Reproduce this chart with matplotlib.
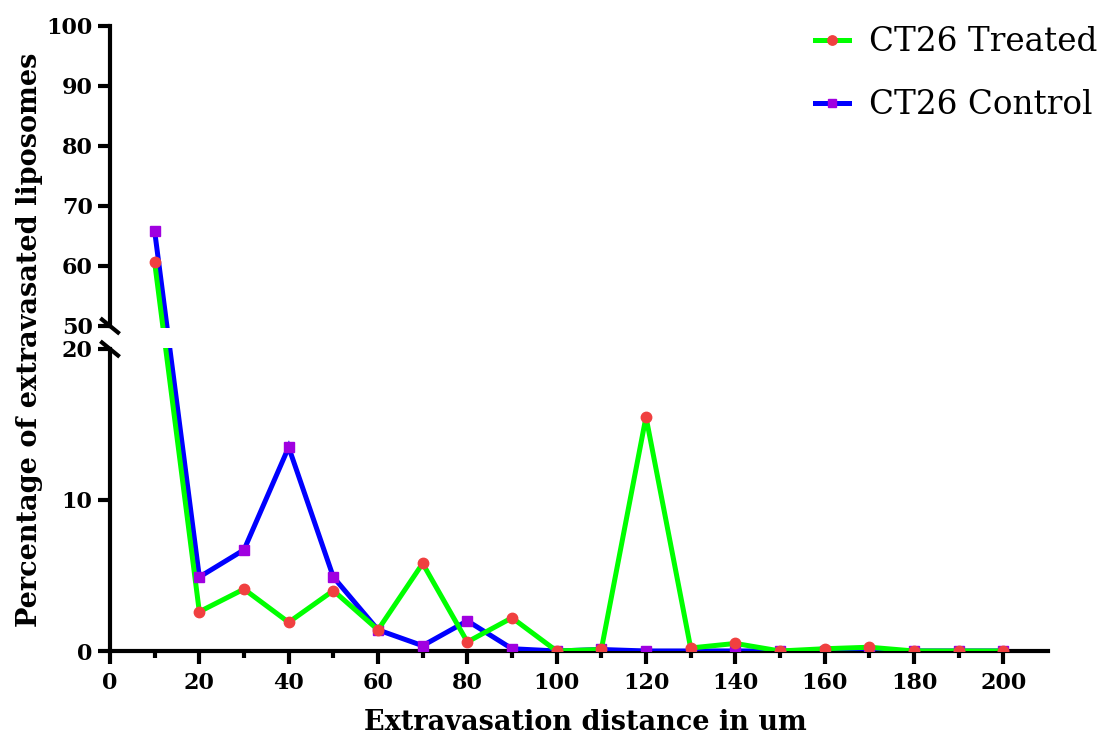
import matplotlib.pyplot as plt
import matplotlib.patches as mpatches
import numpy as np

plt.rcParams['font.family'] = ['DejaVu Serif']

distance = [10, 20, 30, 40, 50, 60, 70, 80, 90, 100,
            110, 120, 130, 140, 150, 160, 170, 180, 190, 200]
treated = [60.6, 2.6, 4.1, 1.9, 4.0, 1.4, 5.8, 0.6, 2.2, 0.0,
           0.1, 15.5, 0.2, 0.5, 0.0, 0.15, 0.25, 0.0, 0.0, 0.0]
control = [65.8, 4.9, 6.7, 13.5, 4.9, 1.4, 0.35, 2.0, 0.15, 0.0,
           0.1, 0.0, 0.0, 0.0, 0.0, 0.0, 0.0, 0.0, 0.0, 0.0]

W, H = 1099, 737
fig = plt.figure(figsize=(W / 100, H / 100), dpi=100)

x0, x1 = 110 / W, 1048 / W
ax_top = fig.add_axes([x0, 1 - 326 / H, x1 - x0, (326 - 26) / H])
ax_bot = fig.add_axes([x0, 1 - 651 / H, x1 - x0, (651 - 349) / H])

spine_w = 3.0
lw = 3.6
styles = [
    (control, 'CT26 Control', '#0000ff', 's', 7, '#a000e0', 3),
    (treated, 'CT26 Treated', '#00ff00', 'o', 7.5, '#f04040', 4),
]

for ax in (ax_top, ax_bot):
    ax.patch.set_visible(False)
    ax.set_xlim(0, 210)
    ax.spines['top'].set_visible(False)
    ax.spines['right'].set_visible(False)
    ax.spines['left'].set_linewidth(spine_w)
    ax.spines['bottom'].set_linewidth(spine_w)
    ax.tick_params(axis='y', length=9, width=spine_w, labelsize=16)

ax_top.set_ylim(50, 100)
ax_top.set_yticks(np.arange(50, 101, 10))
ax_top.spines['bottom'].set_visible(False)
ax_top.set_xticks([])

ax_bot.set_ylim(0, 20)
ax_bot.set_yticks([0, 10, 20])
ax_bot.set_xticks(np.arange(0, 201, 20))
ax_bot.set_xticks(np.arange(10, 201, 20), minor=True)
ax_bot.tick_params(axis='x', which='major', length=9, width=spine_w,
                   labelsize=16, pad=6)
ax_bot.tick_params(axis='x', which='minor', length=5, width=spine_w)

to_fig = fig.transFigure.inverted()
handles = {}
for vals, label, lc, mk, ms, mc, z in styles:
    # first point sits in the upper panel, the rest in the lower one
    ax_top.plot(distance[:1], vals[:1], ls='none', marker=mk, ms=ms,
                mfc=mc, mec=mc, zorder=z)
    h, = ax_bot.plot(distance[1:], vals[1:], color=lc, lw=lw, marker=mk,
                     ms=ms, mfc=mc, mec=mc, zorder=z, label=label,
                     solid_joinstyle='miter')
    handles[label] = h
    # segment crossing the break, straight in screen space
    p0 = to_fig.transform(ax_top.transData.transform((distance[0], vals[0])))
    p1 = to_fig.transform(ax_bot.transData.transform((distance[1], vals[1])))
    fig.add_artist(plt.Line2D([p0[0], p1[0]], [p0[1], p1[1]], color=lc, lw=lw,
                              solid_capstyle='butt', zorder=-1 + z * 0.01,
                              transform=fig.transFigure))

# white gap across the break
fig.add_artist(mpatches.Rectangle((125 / W, 1 - 348 / H), 80 / W, 20 / H,
                                  facecolor='white', edgecolor='none',
                                  zorder=-0.5, transform=fig.transFigure))

for ax in (ax_top, ax_bot):
    for lab in ax.get_yticklabels() + ax.get_xticklabels():
        lab.set_fontweight('bold')

# axis break marks
dx, dy = 8 / W, 6.5 / H
for yp in (326, 349):
    yc = 1 - yp / H
    fig.add_artist(plt.Line2D([x0 - dx, x0 + dx], [yc + dy, yc - dy],
                              color='black', lw=spine_w,
                              transform=fig.transFigure))

fig.text(0.533, 1 - 722 / H, 'Extravasation distance in um',
         ha='center', va='center', fontsize=19.5, fontweight='bold')
fig.text(0.027, 1 - 340 / H, 'Percentage of extravasated liposomes',
         ha='center', va='center', rotation=90, fontsize=19.5, fontweight='bold')

order = ['CT26 Treated', 'CT26 Control']
ax_top.legend([handles[k] for k in order], order, loc='upper right',
              bbox_to_anchor=(987 / 938, 1.0), frameon=False, borderpad=0,
              borderaxespad=0, fontsize=23.5, handlelength=1.05,
              handletextpad=0.6, labelspacing=0.95, markerscale=0.9)

fig.savefig('out.png', dpi=100)
